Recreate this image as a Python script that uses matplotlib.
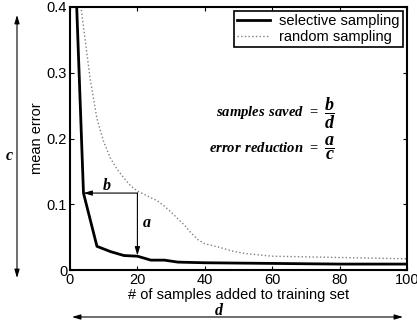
import numpy as np
import matplotlib
matplotlib.use("Agg")
import matplotlib.pyplot as plt

FONT_SIZE = 10.5
EQ_SIZE = 10.5
FRAC_SIZE = 13

# data
x_sel = [0, 4, 8, 12, 16, 20, 24, 28, 32, 40, 60, 80, 100]
y_sel = [0.68, 0.117, 0.036, 0.028, 0.022, 0.021, 0.015, 0.015, 0.012, 0.011, 0.010, 0.009, 0.009]

x_rnd = [2, 4, 6, 8, 10, 12, 14, 16, 18, 20, 22, 24, 26, 28, 30, 32, 34, 36, 38, 40,
         44, 48, 52, 56, 60, 70, 80, 90, 100]
y_rnd = [0.45, 0.37, 0.29, 0.23, 0.195, 0.17, 0.153, 0.14, 0.128, 0.12, 0.115, 0.11, 0.105,
         0.097, 0.088, 0.078, 0.068, 0.056, 0.046, 0.04, 0.035, 0.029, 0.025, 0.023, 0.021,
         0.020, 0.019, 0.018, 0.017]

x_ticks = [0, 20, 40, 60, 80, 100]
y_ticks = [0, 0.1, 0.2, 0.3, 0.4]
y_ticklabels = ["0", "0.1", "0.2", "0.3", "0.4"]

plt.rcParams["font.family"] = "Liberation Sans"
plt.rcParams["mathtext.fontset"] = "custom"
plt.rcParams["mathtext.bf"] = "Liberation Serif:italic:bold"
plt.rcParams["mathtext.rm"] = "Liberation Serif:bold"

W, H = 417, 325
fig = plt.figure(figsize=(W / 100, H / 100), dpi=100)
ax = fig.add_axes([70 / W, 1 - 270 / H, 337 / W, 263 / H])

ax.plot(x_sel, y_sel, color="black", linewidth=2.0, label="selective sampling")
ax.plot(x_rnd, y_rnd, color="gray", linewidth=1.0, linestyle=":", label="random sampling")

ax.set_xlim(0, 100)
ax.set_ylim(0, 0.4)
ax.set_xticks(x_ticks)
ax.set_yticks(y_ticks)
ax.set_yticklabels(y_ticklabels)
ax.tick_params(direction="in", top=True, right=True, labelsize=FONT_SIZE, length=3, width=0.8, pad=2)
for axis in ["top", "bottom", "left", "right"]:
    ax.spines[axis].set_linewidth(1.5)
ax.set_xlabel("# of samples added to training set", fontsize=FONT_SIZE, labelpad=1)
ax.set_ylabel("mean error", fontsize=FONT_SIZE, labelpad=2)

leg = ax.legend(loc="upper right", fontsize=FONT_SIZE, fancybox=False, edgecolor="black",
                framealpha=1, borderaxespad=0.3, handlelength=2.3, borderpad=0.2,
                labelspacing=0.1, handletextpad=0.6)
leg.get_frame().set_linewidth(1.2)

# a / b arrows
arr = dict(arrowstyle="-|>,head_length=0.5,head_width=0.15", color="black", linewidth=0.8,
           shrinkA=0, shrinkB=0)
ax.annotate("", xy=(4, 0.117), xytext=(20, 0.117), arrowprops=arr)
ax.annotate("", xy=(20, 0.022), xytext=(20, 0.117), arrowprops=arr)
ax.text(11, 0.13, r"$\mathbf{b}$", fontsize=EQ_SIZE + 1, ha="center", va="center")
ax.text(21.3, 0.072, r"$\mathbf{a}$", fontsize=EQ_SIZE + 1, ha="left", va="center")

# equations: left side right-aligned at the "=" then the fraction
ax.text(74, 0.239, r"$\mathbf{samples\ saved}\ \mathrm{=}$", fontsize=EQ_SIZE, ha="right", va="center")
ax.text(75.5, 0.239, r"$\dfrac{\mathbf{b}}{\mathbf{d}}$", fontsize=FRAC_SIZE, ha="left", va="center")
ax.text(74, 0.186, r"$\mathbf{error\ reduction}\ \mathrm{=}$", fontsize=EQ_SIZE, ha="right", va="center")
ax.text(75.5, 0.186, r"$\dfrac{\mathbf{a}}{\mathbf{c}}$", fontsize=FRAC_SIZE, ha="left", va="center")

# c / d arrows outside the axes
arr2 = dict(arrowstyle="<|-|>,head_length=0.5,head_width=0.15", color="black", linewidth=0.8,
            shrinkA=0, shrinkB=0)
ax.annotate("", xy=(17 / W, 1 - 15 / H), xytext=(17 / W, 1 - 278 / H),
            xycoords="figure fraction", textcoords="figure fraction", arrowprops=arr2)
ax.annotate("", xy=(72 / W, 1 - 317 / H), xytext=(403 / W, 1 - 317 / H),
            xycoords="figure fraction", textcoords="figure fraction", arrowprops=arr2)
fig.text(9 / W, 1 - 155 / H, r"$\mathbf{c}$", fontsize=EQ_SIZE + 1, ha="center", va="center")
fig.text(219 / W, 1 - 310 / H, r"$\mathbf{d}$", fontsize=EQ_SIZE + 1, ha="center", va="center")

fig.savefig("out.png", dpi=100)
